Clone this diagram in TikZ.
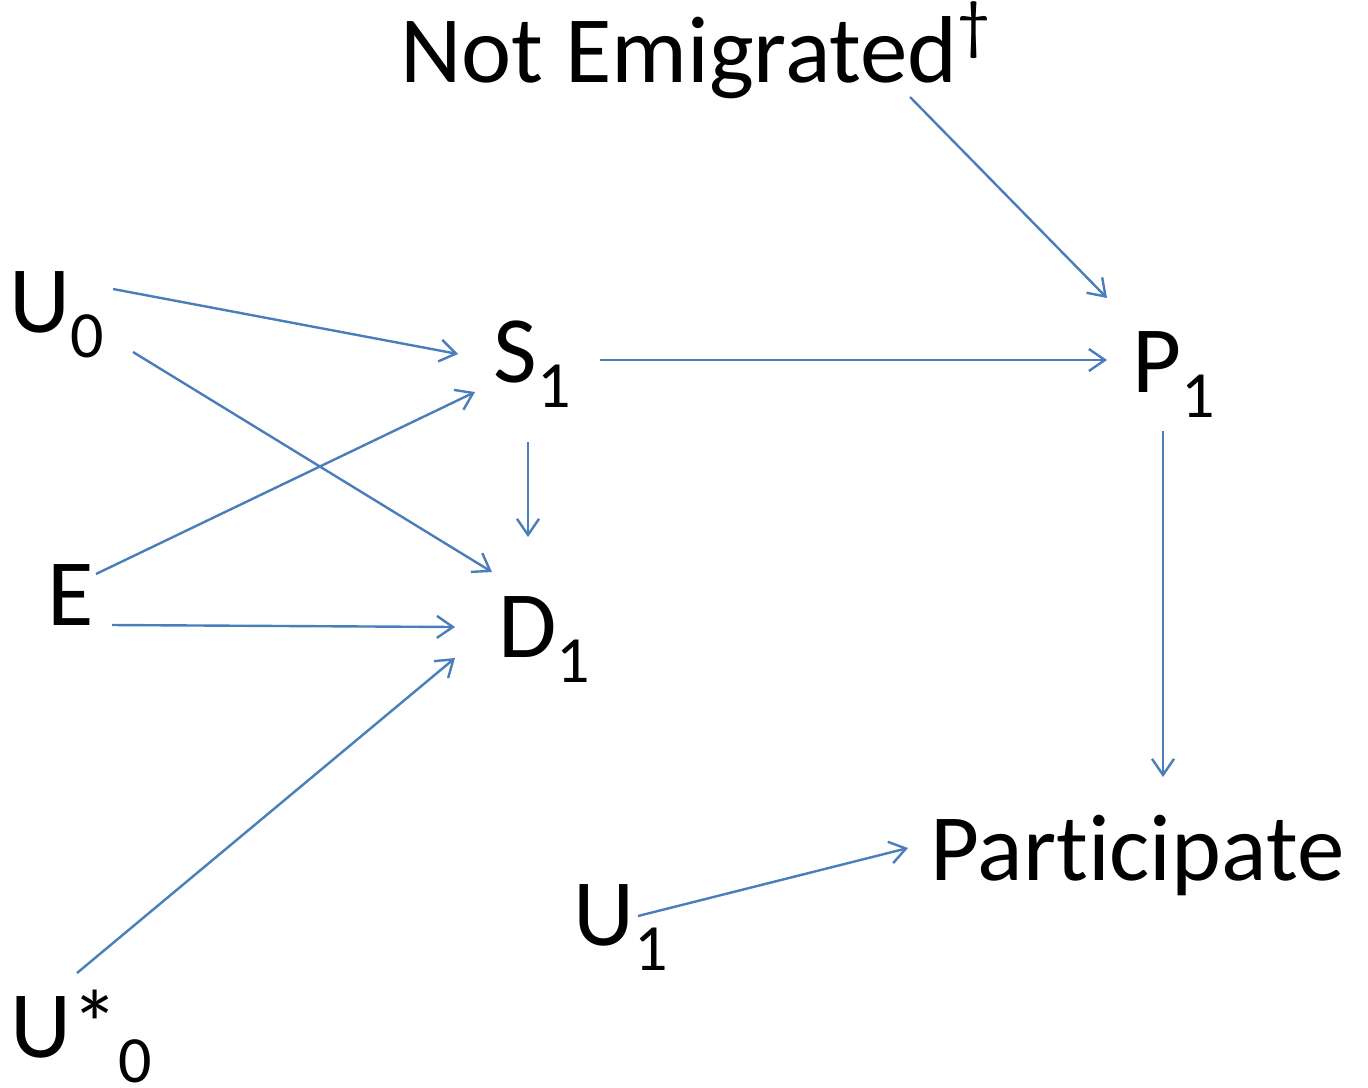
\documentclass[tikz,border=0pt]{standalone}
\usepackage{fontspec}
\setmainfont{Carlito}[Ligatures={NoCommon,NoRequired,NoContextual}]
\usetikzlibrary{arrows.meta}
\definecolor{linkblue}{RGB}{74,126,187}
\tikzset{
lbl/.style={anchor=base west, inner sep=0pt, font=\fontsize{47.5}{56}\selectfont},
link/.style={draw=linkblue, line width=1.2pt, -{Straight Barb[length=8pt,width=11pt,line width=1.2pt]}}
}
\newcommand{\lowsub}[1]{\raisebox{-0.27em}{\fontsize{33}{38}\selectfont #1}}
\newcommand{\highmark}[1]{\raisebox{0.36em}{\fontsize{33}{38}\selectfont #1}}

\begin{document}
\begin{tikzpicture}[x=0.5pt,y=-0.5pt]
\useasboundingbox (0,0) rectangle (1368,1087);

\node[lbl] (NE) at (400,82) {Not Emigrated\highmark{\textdagger}};
\node[lbl] (U0) at (9,332) {U\lowsub{0}};
\node[lbl] (S1) at (493,382) {S\lowsub{1}};
\node[lbl] (P1) at (1132,392) {P\lowsub{1}};
\node[lbl] (E) at (47,625) {E};
\node[lbl] (D1) at (498,657) {D\lowsub{1}};
\node[lbl] (Part) at (930,880) {Part\kern0pt icipate};
\node[lbl] (U1) at (573,945) {U\lowsub{1}};
\node[lbl] (Us0) at (10,1057) {U*\lowsub{0}};

\draw[link] ([shift={(104,-43)}]U0.base west) -- ([shift={(-35,-28)}]S1.base west);
\draw[link] ([shift={(124,20)}]U0.base west) -- ([shift={(-6,-85)}]D1.base west);
\draw[link] ([shift={(49,-51)}]E.base west) -- ([shift={(-18,10)}]S1.base west);
\draw[link] ([shift={(65,0)}]E.base west) -- ([shift={(-43,-30)}]D1.base west);
\draw[link] ([shift={(67,-84)}]Us0.base west) -- ([shift={(-43,1)}]D1.base west);
\draw[link] ([shift={(35,60)}]S1.base west) -- ([shift={(30,-120)}]D1.base west);
\draw[link] ([shift={(107,-22)}]S1.base west) -- ([shift={(-25,-32)}]P1.base west);
\draw[link] ([shift={(510,15)}]NE.base west) -- ([shift={(-25,-94)}]P1.base west);
\draw[link] ([shift={(31,39)}]P1.base west) -- ([shift={(233,-103)}]Part.base west);
\draw[link] ([shift={(65,-29)}]U1.base west) -- ([shift={(-22,-32)}]Part.base west);
\end{tikzpicture}
\end{document}
